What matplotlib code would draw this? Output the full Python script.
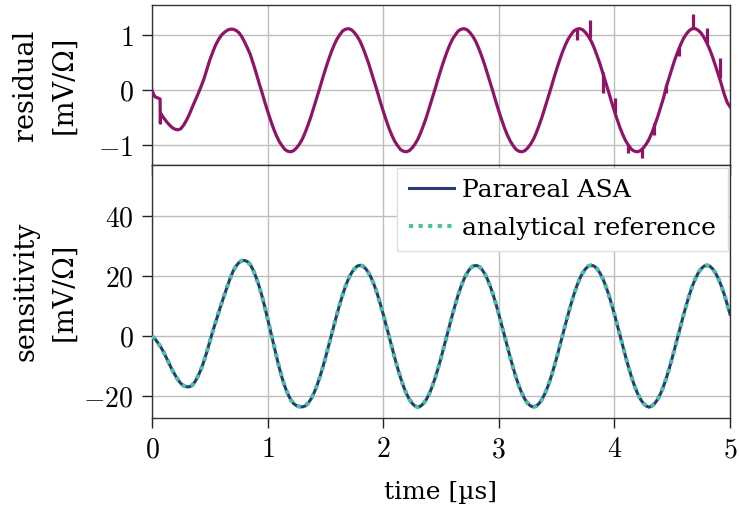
import numpy as np
import matplotlib
matplotlib.use("Agg")
import matplotlib.pyplot as plt

# ---------------- data ----------------
# residual: irregular start, then a 0.025 µs grid from 0.100 to 5.000
res_t_start = [0.0, 0.015, 0.026, 0.05, 0.07, 0.072, 0.075]
res_v_start = [0.0, -0.08, -0.12, -0.14, -0.16, -0.60, -0.42]
res_t_grid = np.round(np.arange(0.100, 5.0001, 0.025), 3)
res_v_grid = [
    # 0.100 - 0.925
    -0.50, -0.57, -0.63, -0.68, -0.71, -0.72, -0.70, -0.63, -0.54, -0.43,
    -0.30, -0.18, -0.06, 0.07, 0.21, 0.38, 0.55, 0.69, 0.82, 0.92,
    1.00, 1.05, 1.09, 1.11, 1.11, 1.09, 1.05, 0.98, 0.88, 0.77,
    0.65, 0.49, 0.32, 0.14,
    # 0.950 - 1.925
    -0.03, -0.21, -0.38, -0.54, -0.69, -0.82, -0.93, -1.01, -1.08, -1.11,
    -1.12, -1.10, -1.05, -0.98, -0.89, -0.77, -0.63, -0.48, -0.31, -0.14,
    0.03, 0.21, 0.38, 0.54, 0.69, 0.82, 0.93, 1.01, 1.08, 1.11,
    1.12, 1.10, 1.05, 0.98, 0.89, 0.77, 0.63, 0.48, 0.31, 0.14,
    # 1.950 - 2.925
    -0.03, -0.21, -0.38, -0.54, -0.69, -0.82, -0.93, -1.01, -1.08, -1.11,
    -1.12, -1.10, -1.05, -0.98, -0.89, -0.77, -0.63, -0.48, -0.31, -0.14,
    0.03, 0.21, 0.38, 0.54, 0.69, 0.82, 0.93, 1.01, 1.08, 1.11,
    1.12, 1.10, 1.05, 0.98, 0.89, 0.77, 0.63, 0.48, 0.31, 0.14,
    # 2.950 - 3.925
    -0.03, -0.21, -0.38, -0.54, -0.69, -0.82, -0.93, -1.01, -1.08, -1.11,
    -1.12, -1.10, -1.05, -0.98, -0.89, -0.77, -0.63, -0.48, -0.31, -0.14,
    0.03, 0.21, 0.38, 0.54, 0.69, 0.82, 0.93, 1.01, 1.08, 1.11,
    1.12, 1.10, 1.05, 0.98, 0.89, 0.77, 0.63, 0.48, 0.31, 0.14,
    # 3.950 - 4.425
    -0.03, -0.21, -0.38, -0.54, -0.69, -0.82, -0.93, -1.01, -1.08, -1.11,
    -1.12, -1.10, -1.05, -0.98, -0.89, -0.77, -0.63, -0.48, -0.31, -0.14,
    # 4.450 - 5.000
    0.07, 0.24, 0.41, 0.57, 0.71, 0.84, 0.95, 1.03, 1.09, 1.12,
    1.12, 1.09, 1.04, 0.96, 0.86, 0.74, 0.60, 0.44, 0.28, 0.11,
    -0.07, -0.22, -0.30,
]
# spikes in the residual (time, low end, high end)
spike_t = [3.673, 3.789, 3.898, 4.005, 4.120, 4.236, 4.345, 4.450, 4.560, 4.680, 4.800, 4.910]
spike_lo = [0.91, 0.95, -0.05, -0.42, -1.15, -1.24, -0.82, -0.05, 0.62, 1.11, 0.86, 0.22]
spike_hi = [1.11, 1.27, 0.33, -0.15, -0.97, -1.05, -0.60, 0.12, 0.78, 1.39, 1.13, 0.58]

# sensitivity on a 0.025 µs grid from 0 to 5
sens_t = np.round(np.arange(0.0, 5.0001, 0.025), 3)
sens_asa = [
    # 0.000 - 1.275
    0.0, -0.9, -2.2, -3.6, -5.3, -7.3, -9.3, -11.3, -13.0, -14.6,
    -15.8, -16.6, -16.9, -16.9, -16.3, -15.0, -13.2, -11.0, -8.3, -5.2,
    -1.8, 1.5, 4.6, 7.7, 10.7, 13.6, 16.4, 19.1, 21.5, 23.2,
    24.4, 25.1, 25.2, 24.8, 23.8, 22.0, 19.6, 16.8, 13.5, 9.8,
    5.8, 1.7, -2.4, -6.5, -10.4, -13.9, -16.9, -19.3, -21.2, -22.5,
    -23.2, -23.5,
    # 1.300 - 1.525
    -23.6, -23.3, -22.4, -21.0, -19.1, -16.7, -13.9, -10.7, -7.3, -3.7,
    # 1.550 - 2.525
    0.0, 3.7, 7.3, 10.7, 13.9, 16.7, 19.1, 21.0, 22.4, 23.3,
    23.6, 23.3, 22.4, 21.0, 19.1, 16.7, 13.9, 10.7, 7.3, 3.7,
    0.0, -3.7, -7.3, -10.7, -13.9, -16.7, -19.1, -21.0, -22.4, -23.3,
    -23.7, -23.3, -22.4, -21.0, -19.1, -16.7, -13.9, -10.7, -7.3, -3.7,
    # 2.550 - 3.525
    0.0, 3.7, 7.3, 10.7, 13.9, 16.7, 19.1, 21.0, 22.4, 23.3,
    23.5, 23.3, 22.4, 21.0, 19.1, 16.7, 13.9, 10.7, 7.3, 3.7,
    0.0, -3.7, -7.3, -10.7, -13.9, -16.7, -19.1, -21.0, -22.4, -23.3,
    -23.6, -23.3, -22.4, -21.0, -19.1, -16.7, -13.9, -10.7, -7.3, -3.7,
    # 3.550 - 4.525
    0.0, 3.7, 7.3, 10.7, 13.9, 16.7, 19.1, 21.0, 22.4, 23.3,
    23.6, 23.3, 22.4, 21.0, 19.1, 16.7, 13.9, 10.7, 7.3, 3.7,
    0.0, -3.7, -7.3, -10.7, -13.9, -16.7, -19.1, -21.0, -22.4, -23.3,
    -23.7, -23.3, -22.4, -21.0, -19.1, -16.7, -13.9, -10.7, -7.3, -3.7,
    # 4.550 - 5.000
    0.0, 3.7, 7.3, 10.7, 13.9, 16.7, 19.1, 21.0, 22.4, 23.3,
    23.6, 23.3, 22.4, 21.0, 19.1, 16.7, 13.9, 10.7, 7.3,
]
sens_ref = list(sens_asa)

x_ticks = [0, 1, 2, 3, 4, 5]
res_ticks = [-1, 0, 1]
sens_ticks = [-20, 0, 20, 40]

# ---------------- style ----------------
PURPLE = "#8e1468"
NAVY = "#283a7c"
TEAL = "#4cc29a"
GRID = "#bdbdbd"
TXT_FONT = "DejaVu Serif"
LBL = 18
YLBL = 19.5

plt.rcParams.update({
    "font.family": "serif",
    "font.serif": ["DejaVu Serif"],
    "mathtext.fontset": "cm",
})


def mlabels(vals):
    return ["$%s$" % ("-" + str(abs(v)) if v < 0 else str(v)) for v in vals]


W, H = 739, 507
fig = plt.figure(figsize=(W / 100, H / 100), dpi=100)
ax1 = fig.add_axes([152 / W, 1 - 165 / H, 578 / W, 160 / H])
ax2 = fig.add_axes([152 / W, 1 - 418 / H, 578 / W, 253 / H])

res_t = list(res_t_start) + list(res_t_grid)
res_v = list(res_v_start) + list(res_v_grid)
ax1.plot(res_t, res_v, color=PURPLE, lw=2.3, solid_joinstyle="round", zorder=3)
ax1.vlines(spike_t, spike_lo, spike_hi, color=PURPLE, lw=2.3, zorder=3)

ax2.plot(sens_t, sens_asa, color=NAVY, lw=2.2, label="Parareal ASA", zorder=3)
ax2.plot(sens_t, sens_ref, color=TEAL, lw=3.0, linestyle=(0, (1, 1.3)),
         label="analytical reference", zorder=4)

for ax in (ax1, ax2):
    ax.set_xlim(0, 5)
    ax.set_xticks(x_ticks)
    ax.set_xticklabels(mlabels(x_ticks))
    ax.grid(True, color=GRID, lw=1.0)
    ax.set_axisbelow(True)
    ax.tick_params(direction="out", length=7.2, width=1.0, labelsize=20, pad=6,
                   top=False, right=False, colors="#222222", labelcolor="black")
    for s in ax.spines.values():
        s.set_color("#333333")
        s.set_linewidth(1.0)

ax1.set_ylim(-1.36, 1.55)
ax1.set_yticks(res_ticks)
ax1.set_yticklabels(mlabels(res_ticks))
ax1.tick_params(axis="x", labelbottom=False)
ax2.set_ylim(-27.3, 57)
ax2.set_yticks(sens_ticks)
ax2.set_yticklabels(mlabels(sens_ticks))

ax1.set_ylabel("residual\n[mV/Ω]", fontsize=YLBL, family=TXT_FONT, linespacing=1.5)
ax2.set_ylabel("sensitivity\n[mV/Ω]", fontsize=YLBL, family=TXT_FONT, linespacing=1.5)
ax2.set_xlabel("time [µs]", fontsize=LBL, family=TXT_FONT)
ax1.yaxis.set_label_coords(-0.13, 0.5)
ax2.yaxis.set_label_coords(-0.13, 0.5)
ax2.xaxis.set_label_coords(0.5, -0.25)

leg = ax2.legend(loc="upper right", prop={"family": TXT_FONT, "size": LBL},
                 fancybox=False, framealpha=1.0, edgecolor="#dddddd",
                 borderaxespad=0.1, handlelength=1.8, handletextpad=0.35,
                 borderpad=0.45, labelspacing=0.6)
leg.get_frame().set_linewidth(1.0)

fig.savefig("out.png", dpi=100)
